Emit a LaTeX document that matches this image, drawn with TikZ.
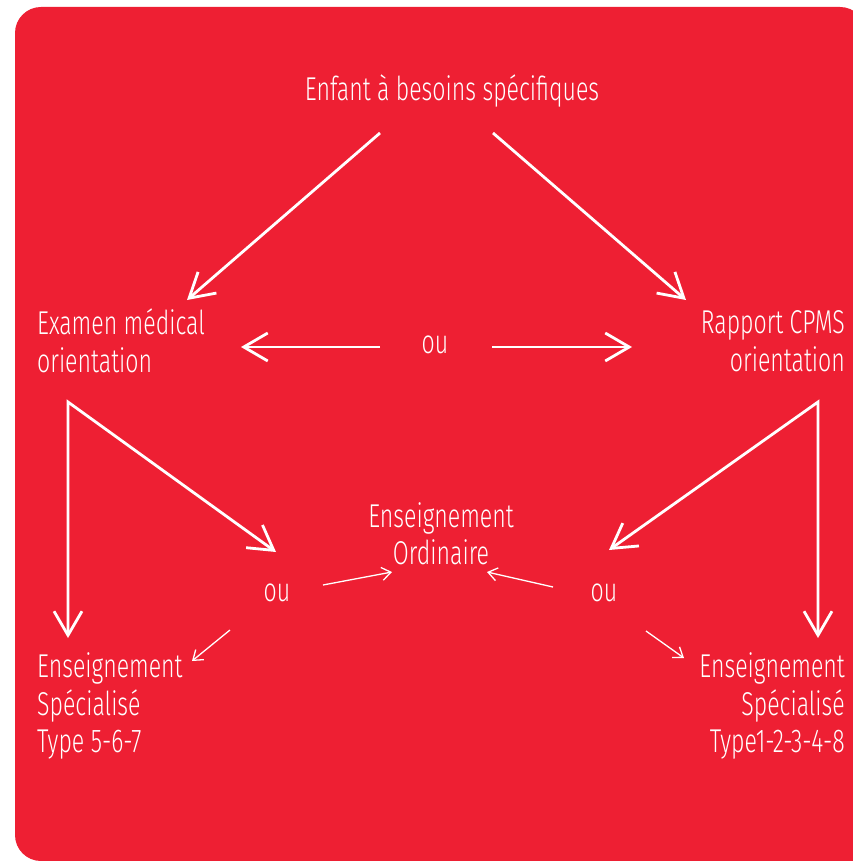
\documentclass[tikz,border=0pt]{standalone}
\usepackage{fontspec}
\setmainfont{Fira Sans}[UprightFont=* Light, FakeStretch=0.7]
\usetikzlibrary{arrows.meta}
\begin{document}
\begin{tikzpicture}[x=1pt, y=-1pt,
  cardtext/.style={text=white, inner sep=0pt, font=\fontsize{33}{37.5}\selectfont},
  bigarrow/.style={white, line width=2.8pt, -{Straight Barb[length=24pt, width=28pt]}},
  smallarrow/.style={white, line width=1.3pt, -{Straight Barb[length=9pt, width=13pt]}}]
  \definecolor{cardred}{HTML}{EE1F33}
  \useasboundingbox (0,0) rectangle (852,861);
  \fill[cardred, rounded corners=26pt] (15,7) rectangle (866,861);
  \fill[cardred] (400,400) rectangle (866,861);

  \node[cardtext] (enfant) at (452,91) {Enfant à besoins spécifiques};
  \node[cardtext, align=left, anchor=west] (examen) at (37,341) {Examen médical\\orientation};
  \node[cardtext] (ouhaut) at (435,345) {ou};
  \node[cardtext, align=right, anchor=east] (rapport) at (845,341) {Rapport CPMS\\orientation};
  \node[cardtext, align=center] (ordinaire) at (441,534) {Enseignement\\Ordinaire};
  \node[cardtext] (ougauche) at (277,593) {ou};
  \node[cardtext] (oudroite) at (604,593) {ou};
  \node[cardtext, align=left, anchor=west] (specgauche) at (37,706) {Enseignement\\Spécialisé\\Type 5-6-7};
  \node[cardtext, align=right, anchor=east] (specdroite) at (845,706) {Enseignement\\Spécialisé\\Type1-2-3-4-8};

  % arrow ends
  \coordinate (enfantG) at (380,133);   \coordinate (examenH) at (187,300);
  \coordinate (enfantD) at (493,133);   \coordinate (rapportH) at (686,300);
  \coordinate (ouhautG) at (380,347);   \coordinate (examenD) at (241,347);
  \coordinate (ouhautD) at (492,347);   \coordinate (rapportG) at (632,347);
  \coordinate (forkG) at (68,402);      \coordinate (specgaucheH) at (68,638);
  \coordinate (ougaucheH) at (276,552);
  \coordinate (forkD) at (818,402);     \coordinate (specdroiteH) at (818,638);
  \coordinate (oudroiteH) at (609,550);
  \coordinate (ougaucheB) at (230,630); \coordinate (specgaucheC) at (192,661);
  \coordinate (ougaucheD) at (323,585); \coordinate (ordinaireG) at (392,572);
  \coordinate (oudroiteG) at (553,587); \coordinate (ordinaireD) at (487,572);
  \coordinate (oudroiteB) at (646,631); \coordinate (specdroiteC) at (684,658);

  \foreach \a/\b in {enfantG/examenH, enfantD/rapportH, ouhautG/examenD, ouhautD/rapportG}
    \draw[bigarrow] (\a) -- (\b);
  \draw[bigarrow, {Straight Barb[length=24pt, width=28pt]}-{Straight Barb[length=24pt, width=28pt]}]
    (specgaucheH) -- (forkG) -- (ougaucheH);
  \draw[bigarrow, {Straight Barb[length=24pt, width=28pt]}-{Straight Barb[length=24pt, width=28pt]}]
    (specdroiteH) -- (forkD) -- (oudroiteH);
  \foreach \a/\b in {ougaucheB/specgaucheC, ougaucheD/ordinaireG, oudroiteG/ordinaireD, oudroiteB/specdroiteC}
    \draw[smallarrow] (\a) -- (\b);
\end{tikzpicture}
\end{document}
